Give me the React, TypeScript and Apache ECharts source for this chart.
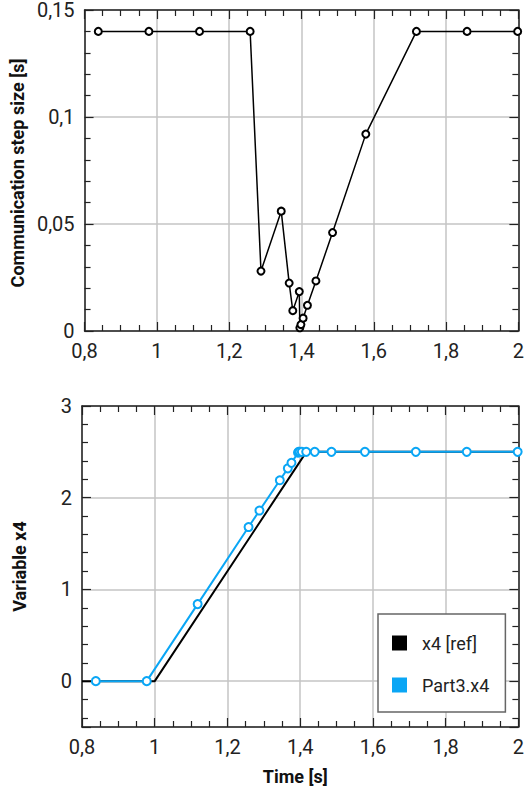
import React, { useEffect, useRef } from "react";
import * as echarts from "echarts";

// Communication points (time [s]) and the step size used to reach each one
const commTimes = [0.838, 0.978, 1.118, 1.258, 1.288, 1.344, 1.366, 1.376, 1.394, 1.3955, 1.3985, 1.4045, 1.4165, 1.44, 1.486, 1.578, 1.718, 1.858, 1.998];
const stepSizes = [0.14, 0.14, 0.14, 0.14, 0.028, 0.056, 0.0224, 0.0095, 0.0184, 0.0015, 0.003, 0.006, 0.012, 0.0234, 0.046, 0.092, 0.14, 0.14, 0.14];
// Part3.x4 values at the communication points
const part3X4 = [0, 0, 0.84, 1.68, 1.86, 2.19, 2.32, 2.38, 2.49, 2.5, 2.5, 2.5, 2.5, 2.5, 2.5, 2.5, 2.5, 2.5, 2.5];
// Reference x4
const refTimes = [0.8, 1.0, 1.417, 2.0];
const refX4 = [0, 0, 2.5, 2.5];

const seriesNames = ["x4 [ref]", "Part3.x4"];
const BLUE = "#0aa6f5";
const FONT = "Roboto";

const fmt = (v: number) => String(+v.toFixed(3)).replace(".", ",");

export default function App() {
  const ref = useRef<HTMLDivElement>(null);
  useEffect(() => {
    document.body.style.margin = "0";
    const chart = echarts.init(ref.current!, null, { renderer: "svg" });

    const axisLine = { show: true, onZero: false, lineStyle: { color: "#222", width: 1.5 } };
    const tick = { show: true, inside: true, length: 9, lineStyle: { color: "#222", width: 1.2 } };
    const minor = (n: number) => ({ show: true, splitNumber: n, length: 6, lineStyle: { color: "#222", width: 1.2 } });
    const grid = { show: true, lineStyle: { color: "#c4c4c4", width: 1.5 } };
    const label = { fontFamily: FONT, fontSize: 20, lineHeight: 18, color: "#222" };
    const nameStyle = { fontFamily: FONT, fontSize: 18, fontWeight: "bold" as const, color: "#111" };

    const xBase = { type: "value" as const, min: 0.8, max: 2, interval: 0.2 };
    const yBottom = { type: "value" as const, min: -0.5, max: 3, splitNumber: 4, minInterval: 1 };

    chart.setOption({
      animation: false,
      backgroundColor: "#fff",
      grid: [
        { left: 82, right: 7, top: 10, height: 321 },
        { left: 82, right: 7, top: 406, height: 321 },
      ],
      xAxis: [
        { ...xBase, gridIndex: 0, position: "bottom", axisLine, axisTick: tick, minorTick: minor(4), splitLine: grid,
          axisLabel: { ...label, margin: 11, formatter: fmt } },
        { ...xBase, gridIndex: 0, position: "top", axisLine, axisTick: tick, minorTick: minor(4), splitLine: { show: false },
          axisLabel: { show: false } },
        { ...xBase, gridIndex: 1, position: "bottom", axisLine, axisTick: tick, minorTick: minor(4), splitLine: grid,
          axisLabel: { ...label, margin: 11, formatter: fmt },
          name: "Time [s]", nameLocation: "middle", nameGap: 40,
          nameTextStyle: { ...nameStyle, padding: [0, 10, 0, 0] } },
        { ...xBase, gridIndex: 1, position: "top", axisLine, axisTick: tick, minorTick: minor(4), splitLine: { show: false },
          axisLabel: { show: false } },
      ],
      yAxis: [
        { type: "value", gridIndex: 0, position: "left", min: 0, max: 0.15, interval: 0.05,
          axisLine, axisTick: tick, minorTick: minor(5), splitLine: grid,
          axisLabel: { ...label, margin: 10, formatter: fmt },
          name: "Communication step size [s]", nameLocation: "middle", nameGap: 54,
          nameTextStyle: { ...nameStyle, padding: [0, 5, 0, 0] } },
        { type: "value", gridIndex: 0, position: "right", min: 0, max: 0.15, interval: 0.05,
          axisLine, axisTick: tick, minorTick: minor(5), splitLine: { show: false }, axisLabel: { show: false } },
        { ...yBottom, gridIndex: 1, position: "left",
          axisLine, axisTick: tick, minorTick: minor(5), splitLine: grid,
          axisLabel: { ...label, margin: 10, formatter: (v: number) => (v < 0 ? "" : fmt(v)) },
          name: "Variable x4", nameLocation: "middle", nameGap: 54, nameTextStyle: nameStyle },
        { ...yBottom, gridIndex: 1, position: "right",
          axisLine, axisTick: tick, minorTick: minor(5), splitLine: { show: false }, axisLabel: { show: false } },
      ],
      legend: {
        left: 378, top: 614, orient: "vertical",
        backgroundColor: "#fff", borderColor: "#666", borderWidth: 1.5,
        padding: [19, 16, 17, 14], itemGap: 22, itemWidth: 15, itemHeight: 15,
        textStyle: { fontFamily: FONT, fontSize: 18, color: "#222", lineHeight: 20, padding: [0, 0, 0, 10] },
        data: [
          { name: seriesNames[0], icon: "rect", itemStyle: { color: "#000", borderWidth: 0 } },
          { name: seriesNames[1], icon: "rect", itemStyle: { color: BLUE, borderWidth: 0 } },
        ],
      },
      series: [
        {
          name: "step", type: "line", xAxisIndex: 0, yAxisIndex: 0,
          data: commTimes.map((t, i) => [t, stepSizes[i]]),
          symbol: "emptyCircle", symbolSize: 7,
          lineStyle: { color: "#000", width: 1.5 },
          itemStyle: { color: "#000", borderColor: "#000", borderWidth: 1.5 },
        },
        {
          name: seriesNames[0], type: "line", xAxisIndex: 2, yAxisIndex: 2,
          data: refTimes.map((t, i) => [t, refX4[i]]),
          symbol: "none", lineStyle: { color: "#000", width: 2 }, itemStyle: { color: "#000" },
        },
        {
          name: seriesNames[1], type: "line", xAxisIndex: 2, yAxisIndex: 2,
          data: commTimes.map((t, i) => [t, part3X4[i]]),
          symbol: "emptyCircle", symbolSize: 8,
          lineStyle: { color: BLUE, width: 2 },
          itemStyle: { color: BLUE, borderColor: BLUE, borderWidth: 1.8 },
        },
      ],
    });
    return () => chart.dispose();
  }, []);
  return <div ref={ref} style={{ width: 527, height: 794 }} />;
}
